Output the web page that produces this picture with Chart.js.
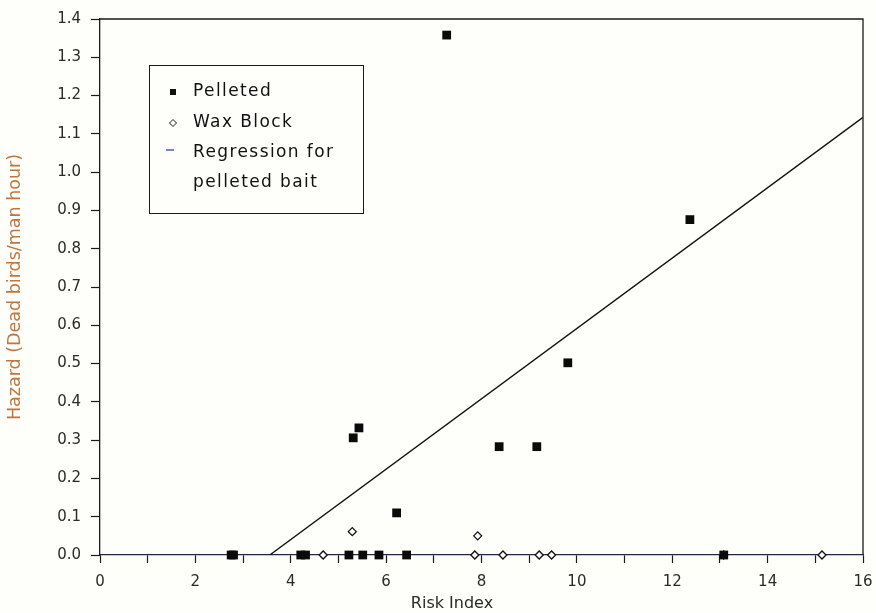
<!DOCTYPE html>
<html>
<head>
<meta charset="utf-8">
<script src="https://cdn.jsdelivr.net/npm/chart.js@4/dist/chart.umd.min.js"></script>
<style>
  body { margin: 0; background: #fefefb; }
  canvas { display: block; }
</style>
</head>
<body>
<canvas id="chart-1" width="876" height="613"></canvas>
<script>
const riskPelleted = [2.75, 2.8, 4.21, 4.31, 5.22, 5.31, 5.43, 5.51, 5.85, 6.22, 6.43, 7.27, 8.37, 9.16, 9.81, 12.37, 13.08];
const hazardPelleted = [0, 0, 0, 0, 0, 0.306, 0.332, 0, 0, 0.11, 0, 1.358, 0.283, 0.283, 0.502, 0.876, 0];
const riskWax = [4.68, 5.29, 7.86, 7.92, 8.45, 9.21, 9.47, 13.08, 15.14];
const hazardWax = [0, 0.061, 0, 0.05, 0, 0, 0, 0, 0];
const regressionRisk = [3.56, 16];
const regressionHazard = [0, 1.143];
const legendLabels = ["Pelleted", "Wax Block", "Regression for", "pelleted bait"];

const toPoints = (xs, ys) => xs.map((x, i) => ({ x: x, y: ys[i] }));

const ink = "#1a1a1a";

// white paper, frame on top/right, legend box, x title
const extras = {
  id: "extras",
  beforeDraw(chart) {
    const ctx = chart.ctx;
    ctx.save();
    ctx.fillStyle = "#fefefb";
    ctx.fillRect(0, 0, chart.width, chart.height);
    ctx.restore();
  },
  afterDraw(chart) {
    const ctx = chart.ctx;
    const a = chart.chartArea;
    ctx.save();
    ctx.strokeStyle = ink;
    ctx.lineWidth = 1.3;
    ctx.beginPath();
    ctx.moveTo(a.left, a.top);
    ctx.lineTo(a.right, a.top);
    ctx.lineTo(a.right, a.bottom);
    ctx.stroke();

    // legend
    ctx.lineWidth = 1;
    ctx.strokeRect(149.5, 65.5, 214, 148);
    ctx.font = "17px 'DejaVu Sans'";
    ctx.letterSpacing = "1.4px";
    ctx.fillStyle = "#111";
    ctx.textBaseline = "middle";
    const rows = [92, 123, 153, 183];
    legendLabels.forEach((t, i) => ctx.fillText(t, 193, rows[i]));
    ctx.fillRect(170, 89, 6, 6);
    ctx.beginPath();
    ctx.moveTo(173, 119.5);
    ctx.lineTo(176.5, 123);
    ctx.lineTo(173, 126.5);
    ctx.lineTo(169.5, 123);
    ctx.closePath();
    ctx.fillStyle = "#fff";
    ctx.fill();
    ctx.stroke();
    ctx.strokeStyle = "#4a5fb0";
    ctx.lineWidth = 1.5;
    ctx.beginPath();
    ctx.moveTo(166, 150);
    ctx.lineTo(174, 150);
    ctx.stroke();

    // x axis title
    ctx.letterSpacing = "0px";
    ctx.font = "16px 'DejaVu Sans'";
    ctx.fillStyle = "#2a2a2a";
    ctx.textAlign = "center";
    ctx.fillText("Risk Index", 452, 604);
    ctx.restore();
  },
};

const config = {
  type: "scatter",
  data: {
    datasets: [
      {
        label: "Pelleted",
        data: toPoints(riskPelleted, hazardPelleted),
        pointStyle: "rect",
        pointRadius: 6.2,
        backgroundColor: "#0a0a0a",
        borderColor: "#0a0a0a",
        borderWidth: 0,
        clip: false,
      },
      {
        label: "Wax Block",
        data: toPoints(riskWax, hazardWax),
        pointStyle: "rectRot",
        pointRadius: 4,
        backgroundColor: "#ffffff",
        borderColor: "#111",
        borderWidth: 1.3,
        clip: false,
      },
      {
        label: "Regression for pelleted bait",
        data: toPoints(regressionRisk, regressionHazard),
        showLine: true,
        pointRadius: 0,
        borderColor: "#111",
        borderWidth: 1.4,
      },
    ],
  },
  options: {
    responsive: false,
    animation: false,
    layout: {
      padding: { top: 19, right: 13, left: 0, bottom: 0 },
    },
    scales: {
      x: {
        type: "linear",
        min: 0,
        max: 16,
        afterFit: (scale) => {
          scale.height = 58;
          scale.paddingLeft = 0;
          scale.paddingRight = 0;
        },
        border: { display: true, color: "#1c2a4a", width: 1.3 },
        grid: { drawOnChartArea: false, drawTicks: true, tickLength: 8, color: ink, tickWidth: 1.2 },
        ticks: {
          stepSize: 1,
          autoSkip: false,
          maxRotation: 0,
          padding: 10,
          color: "#2a2a2a",
          font: { family: "DejaVu Sans", size: 15 },
          callback: (v) => (v % 2 === 0 ? String(v) : ""),
        },
      },
      y: {
        min: 0,
        max: 1.4,
        afterFit: (scale) => { scale.width = 100; },
        border: { display: true, color: ink, width: 1.3 },
        grid: { drawOnChartArea: false, drawTicks: true, tickLength: 9, color: ink, tickWidth: 1.2 },
        ticks: {
          stepSize: 0.1,
          autoSkip: false,
          padding: 10,
          color: "#2a2a2a",
          font: { family: "DejaVu Sans", size: 15 },
          callback: (v) => Number(v).toFixed(1),
        },
        title: {
          display: true,
          text: "Hazard (Dead birds/man hour)",
          color: "#c0773f",
          font: { family: "DejaVu Sans", size: 17.5 },
          padding: { top: 5, bottom: 0 },
        },
      },
    },
    plugins: {
      legend: { display: false },
      tooltip: { enabled: false },
    },
  },
  plugins: [extras],
};

const chart1 = new Chart(document.getElementById("chart-1"), config);
</script>
</body>
</html>
